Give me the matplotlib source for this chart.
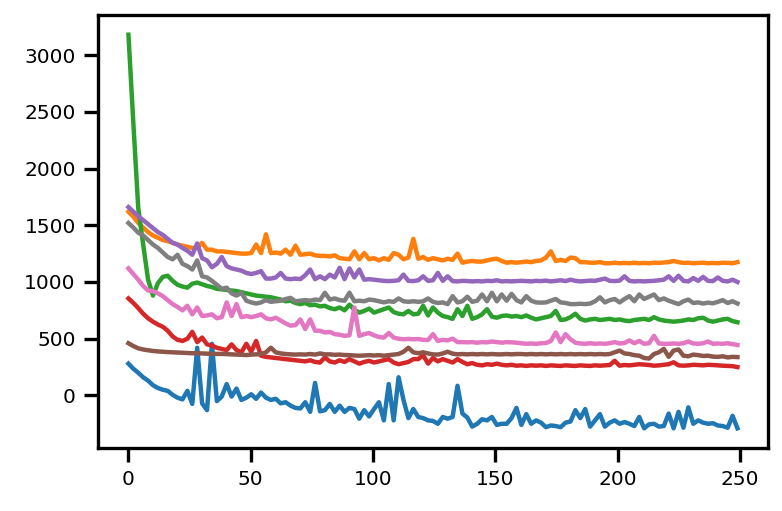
import numpy as np
import matplotlib
matplotlib.use("Agg")
import matplotlib.pyplot as plt

# readings taken every second step (0, 2, ..., 248)
steps = np.linspace(0, 249, 125)

blue = [
    280, 235, 200, 160, 130, 90, 65, 50, 40, 5,
    -20, -35, 40, -75, 420, -70, -130, 455, -50, -10,
    100, -10, 60, -40, -20, 10, -30, 25, -20, -40,
    -30, -70, -60, -90, -110, -115, -60, -145, 110, -140,
    -130, -75, -145, -90, -145, -110, -120, -205, -130, -185,
    -120, -60, -220, 100, -220, 160, -40, -200, -120, -190,
    -200, -220, -225, -250, -190, -205, -190, 85, -160, -195,
    -275, -250, -210, -220, -190, -260, -250, -250, -200, -110,
    -260, -165, -250, -220, -240, -280, -265, -270, -280, -240,
    -230, -130, -200, -120, -275, -220, -165, -275, -240, -220,
    -250, -235, -250, -270, -190, -290, -255, -250, -275, -270,
    -160, -290, -145, -285, -105, -250, -220, -240, -250, -245,
    -265, -270, -285, -180, -290,
]

orange = [
    1620, 1575, 1520, 1480, 1440, 1410, 1390, 1370, 1360, 1345,
    1330, 1320, 1310, 1300, 1300, 1345, 1285, 1285, 1270, 1270,
    1265, 1260, 1255, 1250, 1250, 1255, 1330, 1255, 1420, 1255,
    1260, 1250, 1285, 1240, 1320, 1240, 1245, 1250, 1235, 1230,
    1230, 1225, 1235, 1210, 1205, 1200, 1270, 1200, 1255, 1200,
    1210, 1190, 1210, 1195, 1255, 1240, 1200, 1215, 1380, 1205,
    1220, 1195, 1210, 1200, 1190, 1205, 1195, 1250, 1170, 1180,
    1185, 1180, 1180, 1190, 1200, 1205, 1185, 1170, 1175, 1170,
    1175, 1180, 1175, 1185, 1190, 1215, 1270, 1185, 1195, 1185,
    1215, 1210, 1175, 1175, 1170, 1170, 1175, 1165, 1165, 1170,
    1165, 1168, 1165, 1170, 1165, 1168, 1165, 1170, 1168, 1172,
    1175, 1185, 1175, 1168, 1170, 1165, 1168, 1170, 1165, 1168,
    1165, 1170, 1168, 1165, 1175,
]

green = [
    3180, 2400, 1650, 1330, 1020, 880, 990, 1045, 1055, 1010,
    975, 960, 950, 985, 995, 980, 965, 955, 940, 935,
    930, 925, 920, 910, 900, 890, 880, 875, 870, 865,
    855, 845, 830, 835, 815, 805, 815, 795, 800, 785,
    790, 770, 760, 775, 750, 800, 755, 730, 745, 765,
    730, 745, 760, 775, 735, 720, 715, 745, 715, 720,
    790, 705, 775, 730, 700, 690, 675, 760, 700, 790,
    675, 690, 715, 760, 695, 685, 700, 705, 695, 700,
    690, 705, 685, 670, 680, 690, 700, 745, 665, 670,
    690, 720, 675, 660, 670, 675, 665, 670, 675, 665,
    670, 660, 655, 665, 670, 675, 665, 690, 670, 660,
    655, 650, 655, 660, 670, 665, 680, 685, 660, 650,
    660, 670, 675, 655, 645,
]

red = [
    855, 815, 770, 720, 680, 650, 625, 605, 570, 520,
    490, 480, 500, 560, 470, 510, 450, 440, 420, 410,
    400, 450, 400, 380, 455, 385, 480, 350, 340, 335,
    330, 325, 320, 315, 310, 305, 300, 310, 295, 290,
    335, 300, 290, 310, 295, 320, 300, 280, 295, 305,
    290, 300, 310, 320, 290, 275, 285, 295, 320, 320,
    355, 280, 330, 300, 320, 305, 290, 320, 295, 275,
    285, 270, 265, 275, 270, 280, 270, 265, 270, 262,
    265, 260, 265, 262, 265, 260, 265, 262, 260, 265,
    262, 260, 265, 262, 260, 265, 262, 265, 268, 305,
    262, 268, 265, 270, 275, 272, 268, 262, 265, 270,
    275, 292, 265, 262, 265, 270, 268, 265, 270, 268,
    265, 262, 260, 258, 250,
]

purple = [
    1660, 1620, 1580, 1545, 1510, 1475, 1440, 1415, 1380, 1345,
    1330, 1300, 1275, 1240, 1340, 1210, 1190, 1130, 1160, 1220,
    1140, 1120, 1110, 1100, 1080, 1070, 1080, 1095, 1030, 1030,
    1040, 1080, 1030, 1025, 1030, 1025, 1060, 1110, 1025, 1050,
    1025, 1065, 1040, 1125, 1025, 1120, 1040, 1110, 1020, 1025,
    1020, 1015, 1010, 1008, 1010, 1015, 1065, 1010, 1008, 1015,
    1050, 1010, 1015, 1080, 1010, 1050, 1008, 1005, 1010, 1008,
    1005, 1008, 1005, 1010, 1008, 1015, 1005, 1008, 1005, 1008,
    1010, 1008, 1005, 1010, 1008, 1012, 1005, 1010, 1015, 1008,
    1020, 1010, 1005, 1008, 1012, 1010, 1020, 1030, 1010, 1008,
    1012, 1050, 1010, 1005, 1008, 1005, 1008, 1010, 1015, 1020,
    1050, 1010, 1055, 1010, 1005, 1035, 1010, 1045, 1010, 1008,
    1040, 1010, 1005, 1020, 1000,
]

brown = [
    460, 435, 415, 405, 398, 392, 388, 385, 382, 380,
    378, 376, 374, 372, 372, 370, 368, 368, 366, 366,
    364, 362, 360, 358, 356, 360, 362, 365, 380, 420,
    380, 370, 365, 362, 360, 362, 360, 365, 360, 370,
    362, 362, 358, 360, 356, 355, 352, 350, 352, 355,
    352, 355, 350, 355, 360, 365, 385, 420, 380, 372,
    380, 370, 362, 360, 370, 385, 368, 362, 365, 362,
    365, 362, 365, 362, 365, 362, 362, 365, 362, 365,
    365, 362, 365, 362, 365, 362, 365, 362, 365, 362,
    365, 362, 365, 362, 365, 362, 365, 362, 365, 380,
    395, 370, 365, 355, 350, 330, 325, 365, 380, 410,
    340, 395, 405, 350, 345, 360, 355, 348, 350, 342,
    340, 345, 335, 340, 338,
]

pink = [
    1120, 1070, 1020, 965, 925, 920, 900, 875, 840, 805,
    780, 750, 790, 715, 775, 700, 705, 715, 680, 690,
    820, 700, 805, 690, 700, 690, 700, 715, 680, 670,
    685, 660, 635, 615, 620, 670, 585, 670, 570, 570,
    555, 560, 540, 535, 525, 530, 775, 525, 540, 550,
    530, 515, 510, 550, 510, 500, 495, 498, 495, 497,
    490, 488, 540, 480, 490, 485, 500, 470, 470, 468,
    470, 465, 470, 468, 475, 470, 465, 470, 468, 465,
    460, 455, 458, 455, 460, 462, 480, 555, 470, 540,
    495, 465, 458, 455, 460, 455, 458, 455, 460, 470,
    458, 462, 485, 460, 480, 455, 460, 525, 458, 455,
    455, 458, 455, 460, 475, 458, 455, 460, 475, 455,
    458, 455, 460, 452, 445,
]

gray = [
    1520, 1480, 1435, 1410, 1370, 1330, 1300, 1260, 1220, 1200,
    1240, 1160, 1140, 1110, 1190, 1050, 1040, 1010, 975, 940,
    950, 900, 880, 905, 835, 820, 810, 820, 840, 825,
    830, 835, 850, 860, 830, 835, 840, 835, 845, 840,
    905, 845, 855, 840, 835, 905, 830, 835, 830, 845,
    840, 830, 820, 830, 825, 855, 830, 825, 830, 825,
    830, 855, 825, 815, 820, 805, 875, 820, 830, 870,
    825, 835, 890, 830, 905, 830, 890, 835, 895, 840,
    820, 875, 835, 820, 818, 820, 835, 850, 820, 815,
    805, 805, 808, 805, 810, 830, 865, 820, 840, 850,
    820, 850, 875, 830, 890, 850, 870, 890, 840, 855,
    835, 820, 805, 830, 845, 815, 820, 810, 818, 812,
    825, 840, 815, 830, 810,
]

series = [blue, orange, green, red, purple, brown, pink, gray]

fig = plt.figure(figsize=(7.82, 5.11), dpi=100)
ax = fig.add_axes([0.1253, 0.1233, 0.8567, 0.8473])

for s in series:
    ax.plot(steps, s, linewidth=3.2)

ax.set_xticks([0, 50, 100, 150, 200, 250])
ax.set_yticks([0, 500, 1000, 1500, 2000, 2500, 3000])
ax.tick_params(labelsize=14.5, length=10, width=2.4, pad=6)
for sp in ax.spines.values():
    sp.set_linewidth(2.4)

fig.savefig("out.png", dpi=100)
